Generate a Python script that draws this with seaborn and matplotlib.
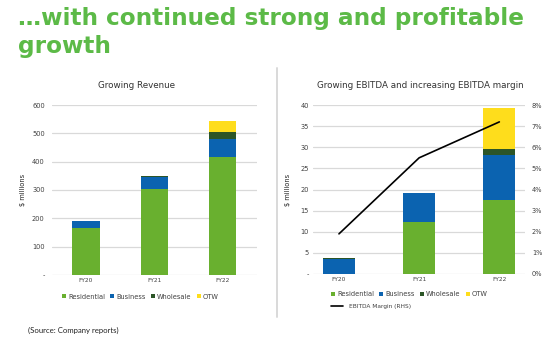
import matplotlib
matplotlib.use("Agg")
import matplotlib.pyplot as plt
from matplotlib.lines import Line2D
from matplotlib.patches import Patch
from matplotlib.ticker import FuncFormatter, MultipleLocator
import seaborn as sns
import pandas as pd

# ---- data -------------------------------------------------------------
years = ["FY20", "FY21", "FY22"]
segments = ["Residential", "Business", "Wholesale", "OTW"]

revenue_residential = [167, 303, 415]
revenue_business = [23, 44, 64]
revenue_wholesale = [0, 3, 26]
revenue_otw = [0, 0, 40]

ebitda_residential = [0, 12.4, 17.5]
ebitda_business = [3.6, 6.7, 10.7]
ebitda_wholesale = [0.2, 0.1, 1.4]
ebitda_otw = [0, 0, 9.8]

ebitda_margin_pct = [1.9, 5.5, 7.2]

headline = ["\u2026with continued strong and profitable", "growth"]
source_note = "(Source: Company reports)"

# ---- style ------------------------------------------------------------
sns.set_style("white")
plt.rcParams["font.family"] = ["DejaVu Sans"]

seg_colors = {
    "Residential": "#69b02f",
    "Business": "#0b63b0",
    "Wholesale": "#2c5527",
    "OTW": "#fedd1c",
}
text_col = "#404040"
grid_col = "#d9d9d9"
green_head = "#5cba47"

W, H = 557, 345
fig = plt.figure(figsize=(W / 100, H / 100), dpi=100)


def px_rect(x0, y0, x1, y1):
    """Axes rect from pixel box (top-left origin)."""
    return [x0 / W, 1 - y1 / H, (x1 - x0) / W, (y1 - y0) / H]


def stacked_bars(ax, series):
    df = pd.DataFrame({"year": years})
    running = [0.0] * len(years)
    cums = []
    for seg, vals in series:
        running = [r + v for r, v in zip(running, vals)]
        cums.append((seg, list(running)))
    # draw the tallest cumulative layer first so lower layers sit on top
    for seg, cum in reversed(cums):
        df["value"] = cum
        sns.barplot(data=df, x="year", y="value", color=seg_colors[seg],
                    saturation=1, width=0.4, linewidth=0, errorbar=None,
                    ax=ax, zorder=3)


def style_axis(ax, ymax, step, ylabel, tickpad, labelpad):
    ax.set_ylim(0, ymax)
    ax.yaxis.set_major_locator(MultipleLocator(step))
    ax.yaxis.set_major_formatter(
        FuncFormatter(lambda v, p: "-" if v == 0 else f"{v:.0f}"))
    ax.set_xlabel("")
    ax.set_ylabel(ylabel, fontsize=4.8, color="#222222", labelpad=labelpad)
    ax.yaxis.grid(True, color=grid_col, linewidth=0.9, zorder=0)
    ax.set_axisbelow(True)
    for s in ax.spines.values():
        s.set_visible(False)
    ax.tick_params(axis="y", length=0, labelsize=4.8, labelcolor=text_col,
                   pad=tickpad)
    ax.tick_params(axis="x", length=0, labelsize=4.2, labelcolor=text_col,
                   pad=2.5)


def seg_legend(x, y):
    handles = [Patch(facecolor=seg_colors[s], edgecolor="none") for s in segments]
    return fig.legend(handles, segments, loc="center left",
                      bbox_to_anchor=(x / W, 1 - y / H), ncol=4, frameon=False,
                      fontsize=4.8, handlelength=0.6, handleheight=0.6,
                      handletextpad=0.3, columnspacing=0.8, borderpad=0,
                      borderaxespad=0, labelcolor=text_col)


# ---- left panel: revenue ----------------------------------------------
ax1 = fig.add_axes(px_rect(51.7, 105, 256.7, 275))
stacked_bars(ax1, [("Residential", revenue_residential),
                   ("Business", revenue_business),
                   ("Wholesale", revenue_wholesale),
                   ("OTW", revenue_otw)])
style_axis(ax1, 600, 100, "$ millions", 5, 4)
fig.text(137 / W, 1 - 85 / H, "Growing Revenue", ha="center", va="center",
         fontsize=6.3, color="#333333")
seg_legend(62, 296.7)

# ---- right panel: EBITDA + margin ------------------------------------
ax2 = fig.add_axes(px_rect(313.3, 105, 525, 274))
stacked_bars(ax2, [("Residential", ebitda_residential),
                   ("Business", ebitda_business),
                   ("Wholesale", ebitda_wholesale),
                   ("OTW", ebitda_otw)])
style_axis(ax2, 40, 5, "$ millions", 3, 7)

ax3 = ax2.twinx()
sns.lineplot(x=[0, 1, 2], y=ebitda_margin_pct, color="black", linewidth=1.2,
             ax=ax3, zorder=5)
ax3.set_ylim(0, 8)
ax3.set_xlim(ax2.get_xlim())
ax3.yaxis.set_major_locator(MultipleLocator(1))
ax3.yaxis.set_major_formatter(FuncFormatter(lambda v, p: f"{v:.0f}%"))
ax3.tick_params(axis="y", length=0, labelsize=4.8, labelcolor=text_col, pad=5)
ax3.set_ylabel("")
for s in ax3.spines.values():
    s.set_visible(False)

fig.text(420 / W, 1 - 86 / H, "Growing EBITDA and increasing EBITDA margin",
         ha="center", va="center", fontsize=6.3, color="#333333")
seg_legend(331, 294.3)
fig.legend([Line2D([0], [0], color="black", linewidth=1.2)],
           ["EBITDA Margin (RHS)"], loc="center left",
           bbox_to_anchor=(331 / W, 1 - 306.7 / H), frameon=False,
           fontsize=4.2, handlelength=2.1, handletextpad=1.0, borderpad=0,
           borderaxespad=0, labelcolor=text_col)

# ---- divider, headline, source ---------------------------------------
fig.add_artist(Line2D([276.7 / W, 276.7 / W], [1 - 68 / H, 1 - 317 / H],
                      color=grid_col, linewidth=1.4, transform=fig.transFigure))

for i, line in enumerate(headline):
    fig.text(18 / W, 1 - (25.5 + 27 * i) / H, line, ha="left", va="baseline",
             fontsize=16.7, fontweight="bold", family=["DejaVu Sans"],
             color=green_head)

fig.text(28 / W, 1 - 330.7 / H, source_note, ha="left", va="center",
         fontsize=5.6, family=["Lato", "DejaVu Sans"], color="#222222")

fig.savefig("out.png", dpi=100)
